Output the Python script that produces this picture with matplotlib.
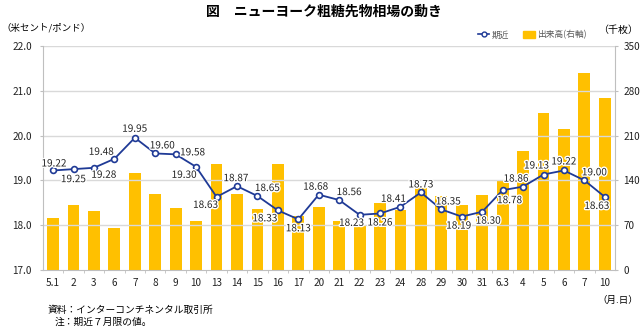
import matplotlib
matplotlib.use('Agg')
import matplotlib.pyplot as plt
import matplotlib.patheffects as pe
from matplotlib.lines import Line2D
from matplotlib.patches import Patch

plt.rcParams['font.family'] = ['Noto Sans CJK JP', 'DejaVu Sans']

# 日付(月.日)
dates = ['5.1', '2', '3', '6', '7', '8', '9', '10', '13', '14', '15', '16', '17', '20',
         '21', '22', '23', '24', '28', '29', '30', '31', '6.3', '4', '5', '6', '7', '10']
# 期近(米セント/ポンド)
prices = [19.22, 19.25, 19.28, 19.48, 19.95, 19.60, 19.58, 19.30, 18.63, 18.87, 18.65, 18.33,
          18.13, 18.68, 18.56, 18.23, 18.26, 18.41, 18.73, 18.35, 18.19, 18.30, 18.78, 18.86,
          19.13, 19.22, 19.00, 18.63]
# 出来高(千枚)
volume = [81, 101, 92, 66, 151, 118, 97, 76, 165, 118, 95, 166, 85, 99,
          76, 68, 105, 94, 128, 115, 101, 117, 140, 186, 245, 220, 307, 269]

# ラベル位置(ピクセル)
offsets = [(1, 7), (0, -10), (10, -7), (-13, 7), (0, 9), (7, 8), (17, 2), (-12, -8),
           (-11, -8), (-1, 8), (10, 8), (-13, -8), (0, -9), (-3, 8), (10, 8), (-8, -8),
           (0, -9), (-7, 8), (0, 8), (7, 8), (-3, -9), (6, -9), (7, -10), (-7, 8),
           (-7, 9), (0, 9), (10, 8), (-8, -9)]

line_color = '#1f3a96'
bar_color = '#ffc000'
grid_color = '#d9d9d9'
spine_color = '#bfbfbf'

fig = plt.figure(figsize=(6.4, 3.28), dpi=100)
ax = fig.add_axes([0.067, 0.177, 0.894, 0.683])
ax2 = ax.twinx()

x = list(range(len(dates)))

# 出来高は右軸、棒は後ろに
ax2.bar(x, volume, width=0.58, color=bar_color, zorder=1)
ax2.set_ylim(0, 350)
ax2.set_yticks([0, 70, 140, 210, 280, 350])

ax.set_zorder(ax2.get_zorder() + 1)
ax.patch.set_visible(False)
ax.plot(x, prices, color=line_color, lw=1.3, marker='o', ms=4.2,
        mfc='white', mec=line_color, mew=1.2, zorder=3)
ax.set_ylim(17.0, 22.0)
ax.set_yticks([17.0, 18.0, 19.0, 20.0, 21.0, 22.0])
ax.set_yticklabels(['%.1f' % v for v in ax.get_yticks()])
ax.set_xlim(-0.5, len(dates) - 0.5)
ax.set_xticks(x)
ax.set_xticklabels(dates)
ax.set_xticks([i + 0.5 for i in x[:-1]], minor=True)

for v in [18.0, 19.0, 20.0, 21.0, 22.0]:
    ax.axhline(v, color=grid_color, lw=1.0, zorder=0)

for i, (p, (dx, dy)) in enumerate(zip(prices, offsets)):
    ax.annotate('%.2f' % p, (i, p), xytext=(dx, dy), textcoords='offset pixels',
                ha='center', va='center', fontsize=7.2, color='#222222', zorder=4,
                path_effects=[pe.withStroke(linewidth=2, foreground='white')])

for a in (ax, ax2):
    for s in a.spines.values():
        s.set_visible(False)
ax.spines['left'].set_visible(True)
ax.spines['left'].set_color(spine_color)
ax.spines['bottom'].set_visible(True)
ax.spines['bottom'].set_color(spine_color)
ax2.spines['right'].set_visible(True)
ax2.spines['right'].set_color(spine_color)

ax.tick_params(axis='x', which='major', length=0, pad=6, labelsize=7.2, colors='#222222')
ax.tick_params(axis='x', which='minor', length=2.5, color=spine_color)
ax.tick_params(axis='y', length=2, color=spine_color, labelsize=7.2, labelcolor='#222222', pad=6)
ax2.tick_params(axis='y', length=2, color=spine_color, labelsize=7.2, labelcolor='#222222', pad=4)

fig.text(0.506, 0.963, '図　ニューヨーク粗糖先物相場の動き', ha='center', va='center',
         fontsize=10, fontweight='bold')
fig.text(0.002, 0.915, '（米セント/ポンド）', ha='left', va='center', fontsize=6.8)
fig.text(0.997, 0.909, '（千枚）', ha='right', va='center', fontsize=7.2)
fig.text(0.997, 0.085, '（月.日）', ha='right', va='center', fontsize=6.8)
fig.text(0.075, 0.055, '資料：インターコンチネンタル取引所', ha='left', va='center', fontsize=7)
fig.text(0.086, 0.018, '注：期近７月限の値。', ha='left', va='center', fontsize=7)

handles = [Line2D([0], [0], color=line_color, lw=1.2, marker='o', ms=3.5,
                  mfc='white', mec=line_color),
           Patch(color=bar_color)]
fig.legend(handles, ['期近', '出来高(右軸)'], loc='center', bbox_to_anchor=(0.832, 0.893),
           ncol=2, frameon=False, fontsize=6.3, handlelength=1.3, handleheight=0.9,
           columnspacing=1.6, handletextpad=0.3, labelcolor='#555555')

fig.savefig('out.png', dpi=100)
